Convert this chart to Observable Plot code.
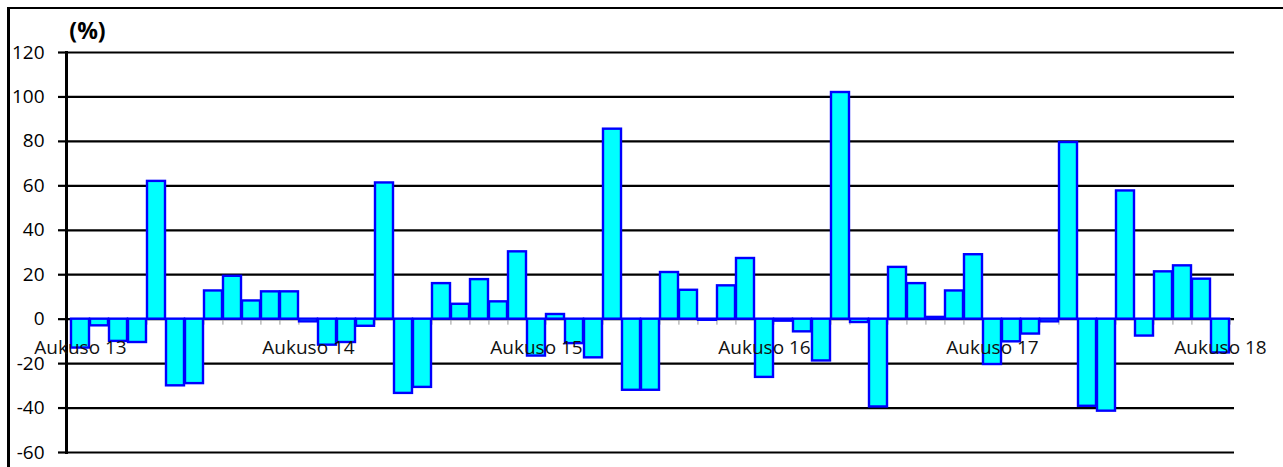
<!DOCTYPE html>
<html>
<head>
<meta charset="utf-8">
<script src="https://cdn.jsdelivr.net/npm/d3@7"></script>
<script src="https://cdn.jsdelivr.net/npm/@observablehq/plot@0.6"></script>
<style>
  html, body { margin: 0; padding: 0; background: #fff; }
  #wrap { position: relative; width: 1283px; height: 467px; overflow: hidden; }
  #frame { position: absolute; left: 7px; top: 7px; width: 2000px; height: 1000px;
           border-top: 2.5px solid #000; border-left: 3px solid #000; pointer-events: none; }
  svg { display: block; }
</style>
</head>
<body>
<div id="wrap"><div id="frame"></div></div>
<script>
// Samoan month names and years (August 2013 .. August 2018)
const months = ["Ianuari","Fepuari","Mati","Aperila","Me","Iuni","Iulai","Aukuso","Setema","Oketopa","Novema","Tesema"];
const years = ["13","14","15","16","17","18"];
const labelMonth = "Aukuso";

// monthly percentage change (%)
const values = [
  -13, -3, -10, -10.5, 62, -30, -29, 12.7, 19.3, 8.2, 12.3, 12.3, -1.2,
  -11.7, -10.5, -3.2, 61.3, -33.4, -30.7, 16, 6.7, 17.8, 7.8, 30.3, -16.6,
  2.1, -11, -17.4, 85.5, -32, -32, 21, 13, -0.5, 15, 27.3, -26.2,
  -0.9, -5.7, -18.8, 102, -1.5, -39.5, 23.3, 16, 0.8, 12.7, 29, -20.4,
  -10.2, -6.7, -1.2, 79.5, -39.2, -41.4, 57.7, -7.6, 21.3, 24, 18, -15.2
];
const yTicks = [-60, -40, -20, 0, 20, 40, 60, 80, 100, 120];

// build category labels
const categories = [];
{
  let m = 7, y = 0;
  for (let i = 0; i < values.length; i++) {
    categories.push(months[m] + " " + years[y]);
    m++; if (m === 12) { m = 0; y++; }
  }
}
const data = categories.map((c, i) => ({cat: c, value: values[i]}));
const labelled = data.filter(d => d.cat.startsWith(labelMonth));

const W = 1283, H = 467;
const mL = 66, mR = 49, mT = 52, mB = 15;
const step = (W - mL - mR) / categories.length;
const font = "'Open Sans', sans-serif";

const chart = Plot.plot({
  width: W, height: H,
  marginLeft: mL, marginRight: mR, marginTop: mT, marginBottom: mB,
  style: {fontFamily: font, fontSize: "19px", color: "#000", background: "transparent", overflow: "visible"},
  x: {type: "band", domain: categories, padding: 0.04, align: 0.5, axis: null},
  y: {domain: [-60, 120], ticks: yTicks, label: null},
  marks: [
    Plot.gridY(yTicks, {stroke: "#000", strokeOpacity: 1, strokeWidth: 2.2}),
    // category boundary ticks below the zero line
    Plot.ruleX(categories, {x: d => d, y1: 0, y2: -2.7, dx: -step / 2, stroke: "#999", strokeWidth: 1}),
    Plot.ruleX([categories[categories.length - 1]], {x: d => d, y1: 0, y2: -2.7, dx: step / 2, stroke: "#999", strokeWidth: 1}),
    Plot.barY(data, {x: "cat", y: "value", fill: "#00FFFF", stroke: "#0000FF", strokeWidth: 2.4}),
    Plot.axisY(yTicks, {tickSize: 8, tickPadding: 14, stroke: "#000", strokeWidth: 2.2, label: null,
      fontSize: 19, fill: "#000", tickFormat: d => String(d)}),
    Plot.frame({anchor: "left", stroke: "#000", strokeWidth: 3}),
    Plot.text(labelled, {x: "cat", y: 0, dy: 29, text: "cat", fill: "#111", fontSize: 19, textAnchor: "middle"}),
    Plot.text(["(%)"], {frameAnchor: "top-left", dx: 21, dy: -30, text: d => d, fontWeight: "bold", fontSize: 23, fill: "#000", textAnchor: "middle"})
  ]
});
document.getElementById("wrap").prepend(chart);
</script>
</body>
</html>
